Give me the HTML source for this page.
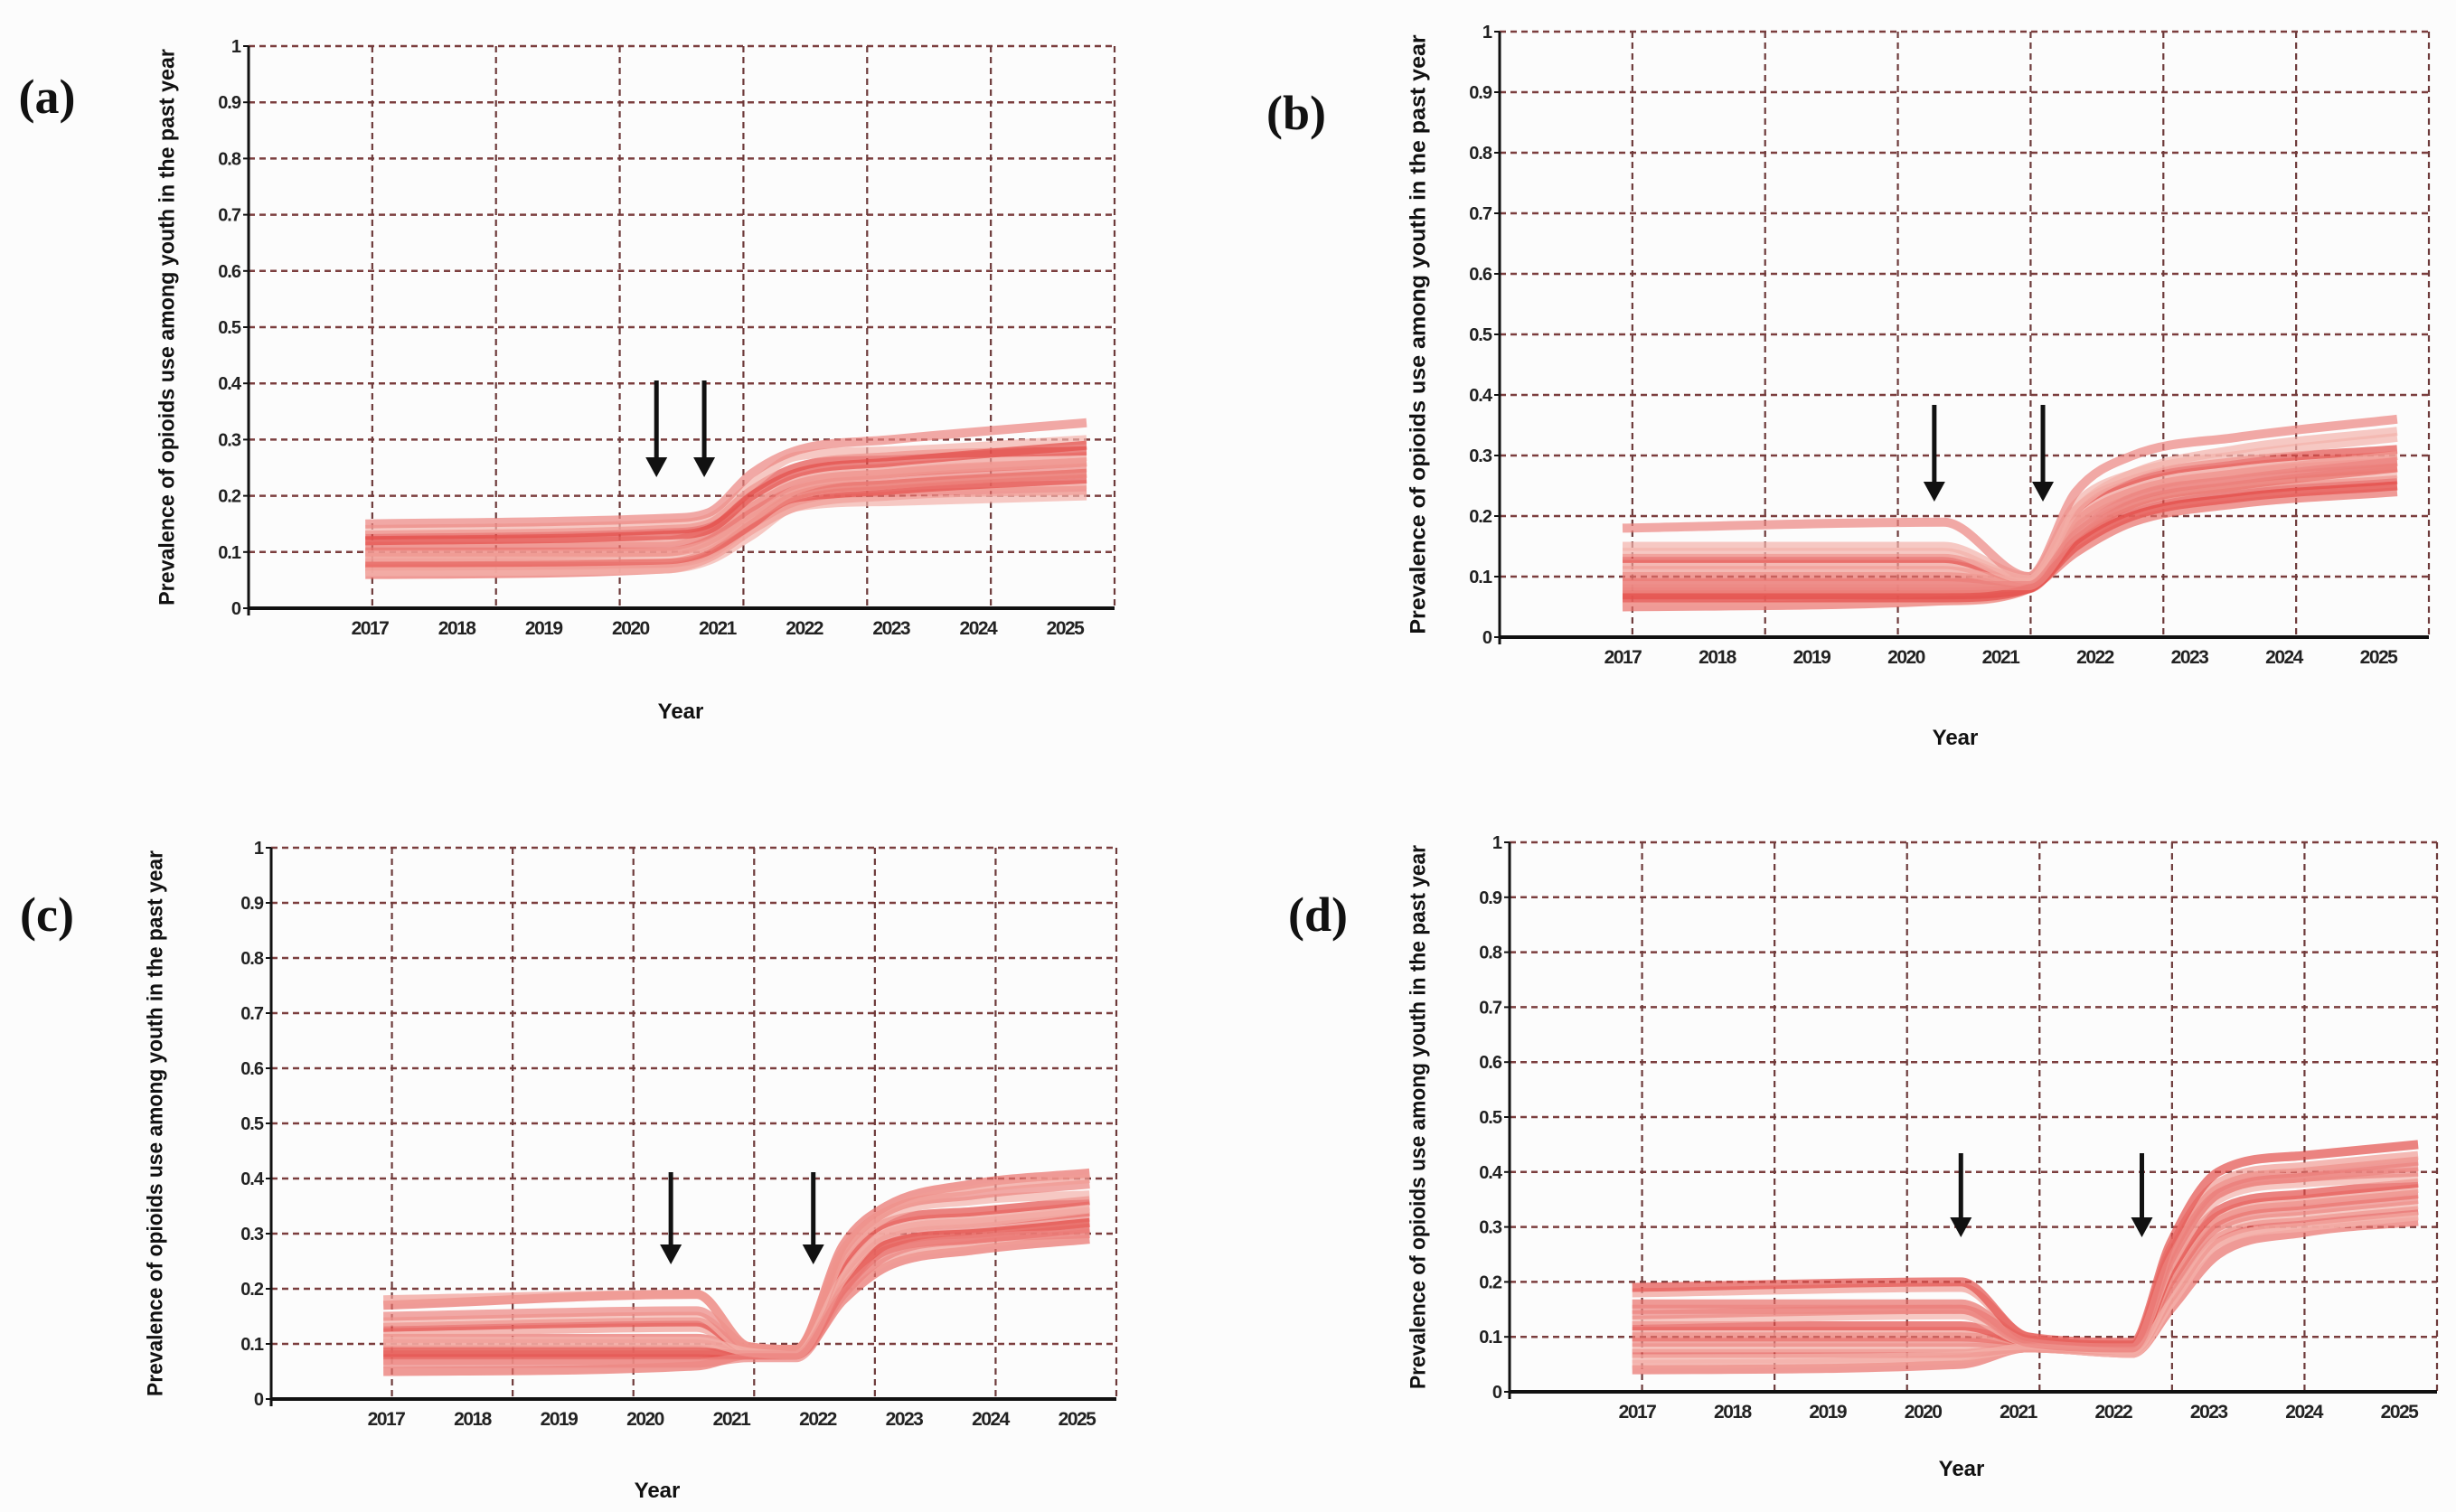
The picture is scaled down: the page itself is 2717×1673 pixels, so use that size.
<!DOCTYPE html>
<html><head><meta charset="utf-8">
<style>
html,body{margin:0;padding:0;background:#fcfcfc;overflow:hidden;}
svg{display:block;}
text{font-family:"Liberation Sans",sans-serif;}
</style></head>
<body>
<svg id="fig" width="2717" height="1673" viewBox="0 0 2717 1673">
<rect x="0" y="0" width="2717" height="1673" fill="#fcfcfc"/>
</svg>
<script>
// ---- data ----
const yTicks = [0,0.1,0.2,0.3,0.4,0.5,0.6,0.7,0.8,0.9,1];
const yTickLabels = ["0","0.1","0.2","0.3","0.4","0.5","0.6","0.7","0.8","0.9","1"];
const xTickYears = [2017,2018,2019,2020,2021,2022,2023,2024,2025];
const xTickLabels = ["2017","2018","2019","2020","2021","2022","2023","2024","2025"];

const yearsA = [2016.95,2020.4,2020.9,2021.4,2021.9,2023,2025.25];
const seriesA = [
[0.06,0.07,0.09,0.14,0.18,0.20,0.21],[0.07,0.07,0.09,0.14,0.19,0.21,0.22],
[0.08,0.08,0.10,0.15,0.19,0.21,0.23],[0.09,0.09,0.11,0.16,0.20,0.22,0.24],
[0.10,0.10,0.12,0.17,0.21,0.23,0.25],[0.11,0.11,0.13,0.18,0.22,0.24,0.26],
[0.12,0.12,0.14,0.19,0.23,0.25,0.27],[0.13,0.14,0.15,0.21,0.25,0.27,0.28],
[0.14,0.15,0.16,0.22,0.27,0.28,0.30],[0.15,0.16,0.17,0.24,0.28,0.30,0.33],
[0.075,0.08,0.095,0.15,0.20,0.22,0.24],[0.095,0.10,0.115,0.16,0.21,0.24,0.26],
[0.12,0.13,0.14,0.20,0.24,0.26,0.29],[0.065,0.07,0.085,0.13,0.18,0.19,0.20]];
const arrowsA = [2020.3,2020.85];

const yearsB = [2017.0,2020.4,2021.3,2021.8,2022.4,2023.5,2025.2];
const seriesB = [
[0.05,0.06,0.08,0.14,0.19,0.22,0.24],[0.06,0.06,0.08,0.15,0.20,0.23,0.25],
[0.07,0.07,0.08,0.16,0.21,0.24,0.26],[0.08,0.08,0.085,0.17,0.22,0.25,0.27],
[0.09,0.09,0.09,0.18,0.23,0.26,0.28],[0.10,0.10,0.09,0.19,0.24,0.27,0.29],
[0.12,0.12,0.09,0.20,0.25,0.28,0.30],[0.13,0.13,0.095,0.21,0.26,0.29,0.31],
[0.15,0.15,0.10,0.22,0.27,0.30,0.33],[0.18,0.19,0.10,0.24,0.30,0.33,0.36],
[0.075,0.075,0.08,0.16,0.22,0.25,0.28],[0.11,0.11,0.09,0.19,0.24,0.27,0.30],
[0.065,0.065,0.08,0.15,0.20,0.23,0.25],[0.14,0.14,0.095,0.21,0.27,0.31,0.34],
[0.085,0.085,0.085,0.17,0.23,0.26,0.29]];
const arrowsB = [2020.3,2021.45];

const yearsC = [2016.97,2020.6,2021.2,2021.75,2022.3,2022.8,2023.8,2025.15];
const seriesC = [
[0.05,0.06,0.08,0.08,0.18,0.24,0.27,0.29],[0.07,0.07,0.08,0.08,0.19,0.25,0.28,0.30],
[0.08,0.08,0.08,0.08,0.20,0.27,0.29,0.31],[0.09,0.09,0.085,0.085,0.21,0.28,0.30,0.32],
[0.10,0.10,0.085,0.085,0.22,0.29,0.31,0.33],[0.11,0.11,0.09,0.085,0.23,0.30,0.32,0.34],
[0.12,0.13,0.09,0.09,0.24,0.31,0.33,0.35],[0.13,0.14,0.09,0.09,0.25,0.32,0.34,0.36],
[0.14,0.15,0.09,0.09,0.26,0.33,0.36,0.37],[0.15,0.16,0.095,0.09,0.27,0.34,0.37,0.39],
[0.17,0.19,0.095,0.09,0.28,0.35,0.39,0.41],[0.18,0.19,0.095,0.09,0.27,0.34,0.38,0.40],
[0.085,0.085,0.08,0.08,0.20,0.28,0.30,0.32],[0.105,0.105,0.085,0.08,0.22,0.30,0.32,0.345],
[0.065,0.065,0.075,0.075,0.19,0.26,0.29,0.30]];
const arrowsC = [2020.3,2021.95];

const yearsD = [2016.95,2020.4,2021.1,2022.2,2022.6,2023.1,2024,2025.2];
const seriesD = [
[0.04,0.05,0.08,0.07,0.15,0.25,0.29,0.31],[0.05,0.06,0.08,0.07,0.16,0.27,0.30,0.32],
[0.07,0.07,0.08,0.075,0.17,0.28,0.31,0.33],[0.08,0.08,0.085,0.075,0.18,0.29,0.32,0.34],
[0.09,0.09,0.085,0.08,0.19,0.30,0.33,0.35],[0.10,0.10,0.09,0.08,0.20,0.31,0.34,0.36],
[0.11,0.11,0.09,0.08,0.21,0.32,0.35,0.37],[0.12,0.12,0.09,0.08,0.22,0.33,0.36,0.38],
[0.13,0.14,0.09,0.085,0.23,0.35,0.38,0.39],[0.14,0.15,0.095,0.085,0.24,0.36,0.39,0.40],
[0.16,0.16,0.095,0.085,0.25,0.37,0.40,0.42],[0.18,0.19,0.10,0.085,0.26,0.38,0.41,0.43],
[0.19,0.20,0.10,0.09,0.27,0.40,0.43,0.45],[0.06,0.065,0.08,0.07,0.16,0.27,0.30,0.32],
[0.15,0.15,0.09,0.08,0.24,0.36,0.39,0.41]];
const arrowsD = [2020.4,2022.3];

// ---- layout ----
const panels = [
 {id:"a", years:yearsA, series:seriesA, arrows:arrowsA, L:275,R:1233,T:51,B:673, x17:409,x25:1178, arrowTop:421,arrowTip:528, label:[52,107], ylabX:186, yearPos:[753,795]},
 {id:"b", years:yearsB, series:seriesB, arrows:arrowsB, L:1659,R:2687,T:35,B:705, x17:1795,x25:2631, arrowTop:448,arrowTip:555, label:[1434,125], ylabX:1570, yearPos:[2163,824]},
 {id:"c", years:yearsC, series:seriesC, arrows:arrowsC, L:300,R:1235,T:938,B:1548, x17:427,x25:1191, arrowTop:1297,arrowTip:1399, label:[52,1012], ylabX:173, yearPos:[727,1657]},
 {id:"d", years:yearsD, series:seriesD, arrows:arrowsD, L:1670,R:2696,T:932,B:1540, x17:1811,x25:2654, arrowTop:1276,arrowTip:1369, label:[1458,1012], ylabX:1570, yearPos:[2170,1633]}
];
const colors = ["#e9706b","#f19c95","#e4504b","#f3b2ab","#ec8580"];
const NS = "http://www.w3.org/2000/svg";
const svg = document.getElementById("fig");
function mk(tag, attrs, parent){
  const e = document.createElementNS(NS, tag);
  for (const k in attrs) e.setAttribute(k, attrs[k]);
  (parent||svg).appendChild(e);
  return e;
}
// monotone cubic path through pixel points
function monoPath(px, py){
  const n = px.length, d = [], m = [];
  for (let i = 0; i < n-1; i++) d.push((py[i+1]-py[i])/(px[i+1]-px[i]));
  m[0] = d[0]; m[n-1] = d[n-2];
  for (let i = 1; i < n-1; i++) m[i] = (d[i-1]*d[i] <= 0) ? 0 : (d[i-1]+d[i])/2;
  for (let i = 0; i < n-1; i++) {
    if (d[i] === 0) { m[i] = 0; m[i+1] = 0; continue; }
    const a = m[i]/d[i], b = m[i+1]/d[i], s = a*a + b*b;
    if (s > 9) { const t = 3/Math.sqrt(s); m[i] = t*a*d[i]; m[i+1] = t*b*d[i]; }
  }
  let s = "M" + px[0] + "," + py[0];
  for (let i = 0; i < n-1; i++) {
    const h = (px[i+1]-px[i])/3;
    s += " C" + (px[i]+h) + "," + (py[i]+m[i]*h) + " " + (px[i+1]-h) + "," + (py[i+1]-m[i+1]*h) + " " + px[i+1] + "," + py[i+1];
  }
  return s;
}

panels.forEach(p => {
  const g = mk("g", {});
  
  
  const xs = yr => p.x17 + (yr - 2017) * (p.x25 - p.x17) / 8;
  const ys = v => p.B - v * (p.B - p.T);

  yTicks.forEach((t, i) => {
    if (t === 0) return;
    const l = mk("line", {x1:p.L, x2:p.R, y1:ys(t), y2:ys(t), stroke:"#7b3e3e", "stroke-width":2.5, "stroke-dasharray":"7 5"}, g);
    
    
  });
  for (let k = 1; k <= 7; k++) {
    const x = p.L + (p.R - p.L) * k / 7;
    const l = mk("line", {x1:x, x2:x, y1:p.T, y2:p.B, stroke:"#6d3a3a", "stroke-width":2.2, "stroke-dasharray":"7 5"}, g);
    
    
  }
  const sg = mk("g", {}, g);
  
  
  p.series.forEach((vals, si) => {
    const px = p.years.map(xs), py = vals.map(ys);
    const path = mk("path", {d:monoPath(px, py), fill:"none", stroke:colors[si % colors.length], "stroke-width":10, "stroke-opacity":0.7, "stroke-linejoin":"round"}, sg);
    
    
  });
  const ax = mk("line", {x1:p.L, x2:p.R, y1:p.B, y2:p.B, stroke:"#111", "stroke-width":4}, g);
  
  
  const ay = mk("line", {x1:p.L, x2:p.L, y1:p.T, y2:p.B + 8, stroke:"#111", "stroke-width":3}, g);
  
  
  yTicks.forEach((t, i) => {
    const tk = mk("line", {x1:p.L - 6, x2:p.L, y1:ys(t), y2:ys(t), stroke:"#111", "stroke-width":2}, g);
    
    
    const tx = mk("text", {x:p.L - 9, y:ys(t) + 7, "text-anchor":"end", "font-size":20, "font-weight":"bold", fill:"#222", "letter-spacing":"-1"}, g);
    tx.textContent = yTickLabels[i];
    
    
  });
  xTickYears.forEach((yr, i) => {
    const tx = mk("text", {x:xs(yr), y:p.B + 29, "text-anchor":"middle", "font-size":21, "font-weight":"bold", fill:"#222", "letter-spacing":"-1.5"}, g);
    tx.textContent = xTickLabels[i];
    
    
  });
  p.arrows.forEach(yr => {
    const x = xs(yr);
    const ag = mk("g", {}, g);
    
    
    mk("line", {x1:x, x2:x, y1:p.arrowTop, y2:p.arrowTip - 15, stroke:"#111", "stroke-width":5}, ag);
    mk("polygon", {points:(x-12)+","+(p.arrowTip-22)+" "+(x+12)+","+(p.arrowTip-22)+" "+x+","+p.arrowTip, fill:"#111"}, ag);
  });
  const cy = (p.T + p.B) / 2;
  const yl = mk("text", {x:p.ylabX, y:cy, transform:"rotate(-90 "+p.ylabX+" "+cy+")", "text-anchor":"middle", "dominant-baseline":"middle", "font-size":24, "font-weight":"bold", fill:"#111", textLength:(p.B - p.T) * 0.99, lengthAdjust:"spacingAndGlyphs"}, g);
  yl.textContent = "Prevalence of opioids use among youth in the past year";
  
  
  const xl = mk("text", {x:p.yearPos[0], y:p.yearPos[1], "text-anchor":"middle", "font-size":24, "font-weight":"bold", fill:"#111"}, g);
  xl.textContent = "Year";
  
  
  const pl = mk("text", {x:p.label[0], y:p.label[1] + 18, "text-anchor":"middle", "font-size":54, "font-weight":"bold", fill:"#111", style:"font-family:'Liberation Serif',serif"}, g);
  pl.textContent = "(" + p.id + ")";
  
  
});
</script>
</body></html>
